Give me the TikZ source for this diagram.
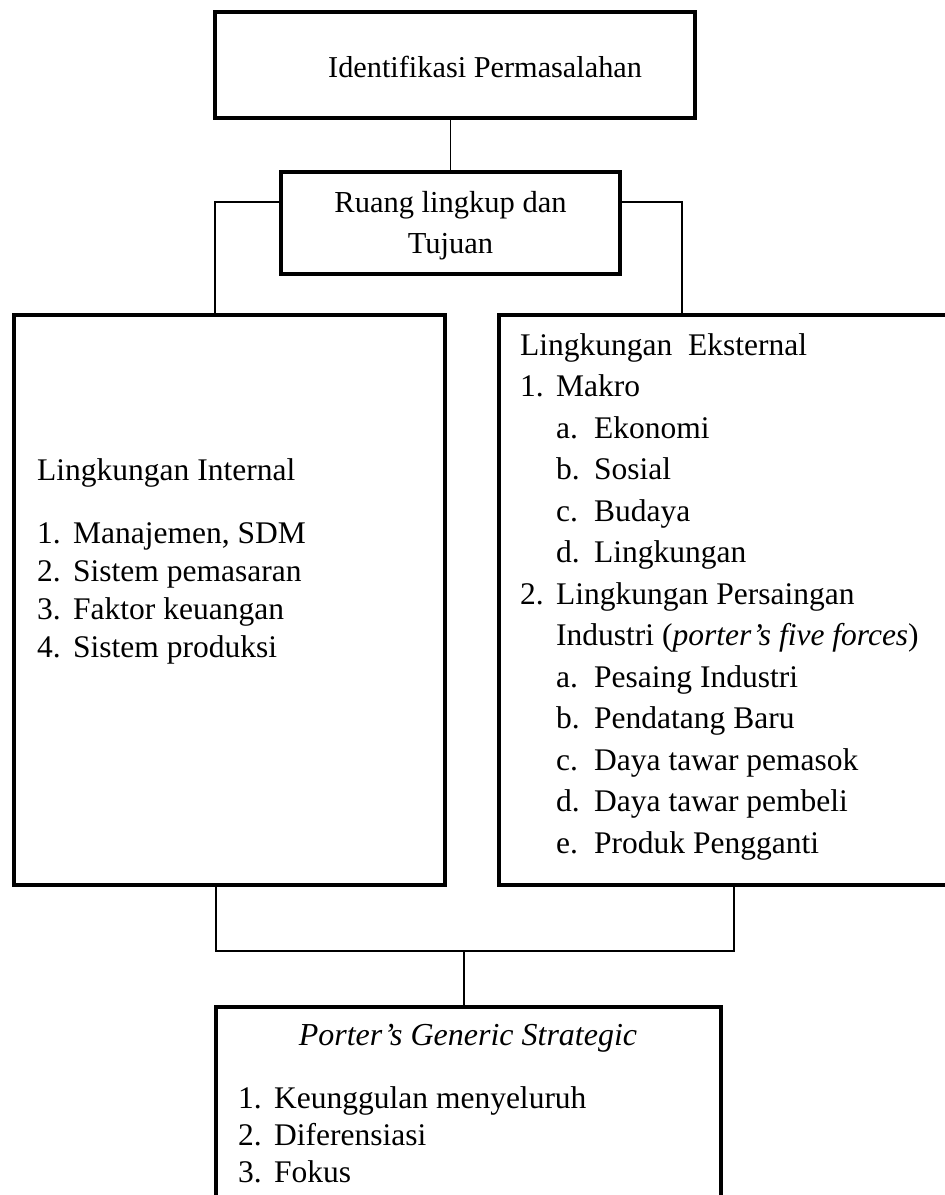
\documentclass[tikz,border=0pt]{standalone}
\usepackage{fontspec}
\setmainfont{Liberation Serif}
\usetikzlibrary{positioning,calc}
\newcommand{\numit}[2]{\makebox[36pt][l]{#1}#2}
\newcommand{\subit}[2]{\hspace*{36pt}\makebox[38pt][l]{#1}#2}

\begin{document}
\begin{tikzpicture}[
  x=1pt, y=-1pt,
  box/.style={draw=black, line width=4.5pt, inner sep=0pt},
  conn/.style={draw=black, line width=1.4pt},
  txt/.style={anchor=base west, align=left, inner sep=0pt,
    font=\fontsize{31.5}{38}\selectfont},
  ]
  \useasboundingbox (0,0) rectangle (945,1195);
  \clip (0,0) rectangle (945,1195);

  % The boxes.
  \node[box, minimum width=480pt, minimum height=106pt] (ident) at (455,65) {};
  \node[box, minimum width=339pt, minimum height=102pt] (scope) at (450.5,223) {};
  \node[box, minimum width=431pt, minimum height=570pt] (inl) at (229.5,600) {};
  \node[box, minimum width=461pt, minimum height=570pt] (exl) at (729.5,600) {};
  \node[box, minimum width=505pt, minimum height=213pt] (gen) at (468.5,1113.5) {};

  % Texts (multi-line nodes sit on the baseline of their last line).
  \node[txt, font=\fontsize{30.3}{38}\selectfont] (identtxt) at (328,77)
    {Identifikasi Permasalahan};
  \node[txt, anchor=base, align=center, font=\fontsize{30.5}{41}\selectfont]
    (scopetxt) at (450.5,253) {Ruang lingkup dan\\Tujuan};
  \node[txt] (inltxt) at (37,480) {Lingkungan Internal};
  \node[txt] (inlist) at (37,657)
    {\numit{1.}{Manajemen, SDM}\\\numit{2.}{Sistem pemasaran}\\
     \numit{3.}{Faktor keuangan}\\\numit{4.}{Sistem produksi}};
  \node[txt, font=\fontsize{31.5}{41.5}\selectfont] (exlist) at (520,853)
    {Lingkungan\ \ Eksternal\\
     \numit{1.}{Makro}\\
     \subit{a.}{Ekonomi}\\\subit{b.}{Sosial}\\\subit{c.}{Budaya}\\
     \subit{d.}{Lingkungan}\\
     \numit{2.}{Lingkungan Persaingan}\\
     \hspace*{36pt}Industri (\textit{porter's five forces})\\
     \subit{a.}{Pesaing Industri}\\\subit{b.}{Pendatang Baru}\\
     \subit{c.}{Daya tawar pemasok}\\\subit{d.}{Daya tawar pembeli}\\
     \subit{e.}{Produk Pengganti}};
  \node[txt, anchor=base, font=\fontsize{32}{38}\selectfont] (gentxt) at (468,1045)
    {\textit{Porter's Generic Strategic}};
  \node[txt, font=\fontsize{31.5}{37}\selectfont] (genlist) at (238,1182)
    {\numit{1.}{Keunggulan menyeluruh}\\\numit{2.}{Diferensiasi}\\\numit{3.}{Fokus}};

  % Connectors.
  \coordinate (jl) at (215,202);
  \coordinate (jr) at (682,202);
  \coordinate (bl) at (216,951);
  \coordinate (br) at (734,951);
  \coordinate (bm) at (464,951);
  \draw[conn] (scope.north) -- (scope.north |- ident.south);
  \draw[conn] (scope.west |- jl) -- (jl) -- (jl |- inl.north);
  \draw[conn] (scope.east |- jr) -- (jr) -- (jr |- exl.north);
  \draw[conn] (bl |- inl.south) -- (bl) -- (br) -- (br |- exl.south);
  \draw[conn] (bm) -- (bm |- gen.north);
\end{tikzpicture}
\end{document}
